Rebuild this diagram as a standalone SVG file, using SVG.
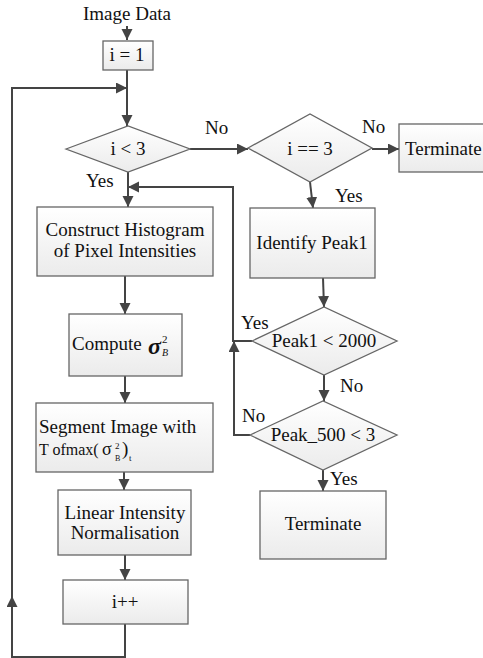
<svg xmlns="http://www.w3.org/2000/svg" width="483" height="658" viewBox="0 0 483 658">
<style>
.box{fill:url(#g);stroke:#666;stroke-width:1.3}
.dia{fill:url(#g);stroke:#666;stroke-width:1.3}
.t{font-family:"Liberation Serif","Times New Roman",serif;font-size:19px;fill:#111}
.s{font-family:"Liberation Serif","Times New Roman",serif;fill:#111}
.c{text-anchor:middle}
.ln{fill:none;stroke:#444;stroke-width:2}
.ar{marker-end:url(#a)}
</style>
<defs>
<linearGradient id="g" x1="0" y1="0" x2="0" y2="1">
<stop offset="0" stop-color="#ffffff"/>
<stop offset="1" stop-color="#ebebeb"/>
</linearGradient>
<marker id="a" markerUnits="userSpaceOnUse" markerWidth="12" markerHeight="12" refX="11" refY="5.5" orient="auto">
<path d="M0 0 L11 5.5 L0 11 z" fill="#444"/>
</marker>
</defs>
<g id="connectors">
<path class="ln ar" d="M127 26 V40"/>
<path class="ln ar" d="M127 70 V126"/>
<path class="ln ar" d="M125 624 V657 H12 V596"/>
<path class="ln ar" d="M12 600 V88 H127"/>
<path class="ln ar" d="M190 149 H248"/>
<path class="ln ar" d="M372 149 H399"/>
<path class="ln ar" d="M128 172 V207"/>
<path class="ln ar" d="M310 182 L313 208"/>
<path class="ln ar" d="M323 278 L324 307"/>
<path class="ln ar" d="M324 375 V401"/>
<path class="ln ar" d="M252 341 H233 V187 H128"/>
<path class="ln ar" d="M250 435 H234 V341"/>
<path class="ln ar" d="M323 470 V491"/>
<path class="ln ar" d="M125 276 V314"/>
<path class="ln ar" d="M125 376 V403"/>
<path class="ln ar" d="M124 472 V490"/>
<path class="ln ar" d="M125 555 V580"/>
</g>
<g id="labels">
<text class="t" x="205" y="134">No</text>
<text class="t" x="362" y="133">No</text>
<text class="t" x="86" y="187">Yes</text>
<text class="t" x="335" y="202">Yes</text>
<text class="t" x="241" y="329">Yes</text>
<text class="t" x="340" y="392">No</text>
<text class="t" x="242" y="422">No</text>
<text class="t" x="330" y="485">Yes</text>
</g>
<g id="start"><text class="t c" x="127" y="20">Image Data</text></g>
<g id="init"><rect class="box" x="103" y="41" width="50" height="29"/><text class="t c" x="127" y="61">i = 1</text></g>
<g id="dec1"><polygon class="dia" points="66,149 128,126 190,149 128,172"/><text class="t c" x="128" y="155">i &lt; 3</text></g>
<g id="dec2"><polygon class="dia" points="248,148 310,114 372,148 310,182"/><text class="t c" x="310" y="155">i == 3</text></g>
<g id="term1"><rect class="box" x="399" y="124" width="100" height="48"/><text class="t" x="405" y="155">Terminate</text></g>
<g id="hist"><rect class="box" x="37" y="207" width="176" height="69"/><text class="t c" x="125" y="236">Construct Histogram</text><text class="t c" x="125" y="257">of Pixel Intensities</text></g>
<g id="compute"><rect class="box" x="69" y="314" width="113" height="62"/><text class="t" x="72" y="350">Compute</text><text class="s" x="148" y="354" style="font-size:24px;font-style:italic;font-weight:bold">σ</text><text class="s" x="162" y="343" style="font-size:11px">2</text><text class="s" x="162" y="356" style="font-size:10px;font-style:italic">B</text></g>
<g id="segment"><rect class="box" x="36" y="403" width="177" height="69"/><text class="t" x="39" y="433">Segment Image with</text><text class="t" y="455"><tspan x="39" style="font-size:16px">T ofmax(</tspan><tspan x="102" style="font-size:18px">σ</tspan><tspan x="115" y="449" style="font-size:9px">2</tspan><tspan x="115" y="461" style="font-size:8px">B</tspan><tspan x="122" y="455">)</tspan><tspan x="129" y="461" style="font-size:9px">t</tspan></text></g>
<g id="identify"><rect class="box" x="250" y="208" width="125" height="70"/><text class="t c" x="312" y="249">Identify Peak1</text></g>
<g id="dec3"><polygon class="dia" points="252,341 324,307 397,341 324,375"/><text class="t c" x="324" y="347">Peak1 &lt; 2000</text></g>
<g id="dec4"><polygon class="dia" points="250,435 323,401 397,435 323,470"/><text class="t c" x="323" y="441">Peak_500 &lt; 3</text></g>
<g id="term2"><rect class="box" x="260" y="491" width="126" height="68"/><text class="t c" x="323" y="530">Terminate</text></g>
<g id="normalise"><rect class="box" x="58" y="490" width="133" height="65"/><text class="t c" x="125" y="519">Linear Intensity</text><text class="t c" x="125" y="539">Normalisation</text></g>
<g id="incr"><rect class="box" x="63" y="580" width="125" height="44"/><text class="t c" x="125" y="608">i++</text></g>
</svg>
